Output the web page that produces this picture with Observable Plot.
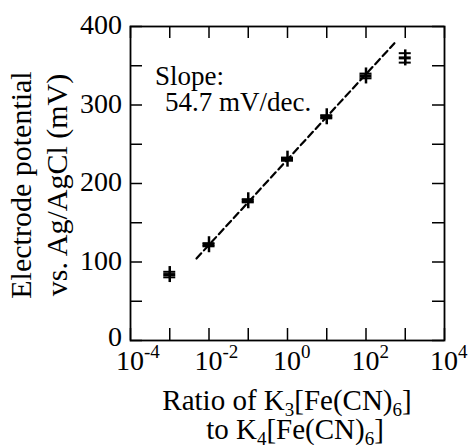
<!DOCTYPE html>
<html><head><meta charset="utf-8">
<script src="https://cdn.jsdelivr.net/npm/d3@7"></script>
<script src="https://cdn.jsdelivr.net/npm/@observablehq/plot@0.6"></script>
<style>
body{margin:0;background:#fff}
svg{font-family:"Liberation Serif","Times New Roman",serif;background:#fff}
</style>
</head><body><div id="chart"></div>
<script>
// Data
const ratio = [1e-3, 1e-2, 1e-1, 1, 10, 100, 1000];
const potential = [84, 122, 178, 231, 285, 337, 360];
const errorMV = [3.5, 2, 2, 2, 2, 3, 6];
// dashed fit line (slope 54.7 mV/dec.)
const fitRatio = [0.0048, 530];
const fitPotential = [104.5, 378.7];
// axes
const xTickValues = [1e-4, 1e-3, 1e-2, 1e-1, 1, 10, 100, 1000, 1e4];
const xLabelValues = [1e-4, 1e-2, 1, 100, 1e4];
const xLabelExponents = ["-4", "-2", "0", "2", "4"];
const yTickValues = [0, 50, 100, 150, 200, 250, 300, 350, 400];
const yLabelValues = [0, 100, 200, 300, 400];

const points = ratio.map((r, i) => ({r, v: potential[i], e: errorMV[i]}));
const fit = fitRatio.map((r, i) => ({r, v: fitPotential[i]}));

const tickLen = 12;
const plot = Plot.plot({
  width: 470, height: 445,
  marginLeft: 130, marginRight: 26, marginTop: 26, marginBottom: 105,
  x: {type: "log", domain: [1e-4, 1e4], axis: null},
  y: {domain: [0, 400], axis: null},
  marks: [
    // inward ticks
    Plot.ruleX(xTickValues, {x: d => d, y1: 0, y2: 0, insetTop: -tickLen, stroke: "#000", strokeWidth: 1.5}),
    Plot.ruleX(xTickValues, {x: d => d, y1: 400, y2: 400, insetBottom: -tickLen, stroke: "#000", strokeWidth: 1.5}),
    Plot.ruleY(yTickValues, {y: d => d, x1: 1e-4, x2: 1e-4, insetRight: -tickLen, stroke: "#000", strokeWidth: 1.5}),
    Plot.ruleY(yTickValues, {y: d => d, x1: 1e4, x2: 1e4, insetLeft: -tickLen, stroke: "#000", strokeWidth: 1.5}),
    Plot.frame({stroke: "#000", strokeWidth: 1.8}),
    // fit line
    Plot.line(fit, {x: "r", y: "v", stroke: "#000", strokeWidth: 2.2, strokeDasharray: "7,4"}),
    // error bars
    Plot.ruleX(points, {x: "r", y1: d => d.v - d.e, y2: d => d.v + d.e, stroke: "#000", strokeWidth: 2}),
    Plot.ruleY(points, {y: d => d.v + d.e, x1: "r", x2: "r", insetLeft: -6, insetRight: -6, stroke: "#000", strokeWidth: 2}),
    Plot.ruleY(points, {y: d => d.v - d.e, x1: "r", x2: "r", insetLeft: -6, insetRight: -6, stroke: "#000", strokeWidth: 2}),
    // plus markers
    Plot.ruleX(points, {x: "r", y1: "v", y2: "v", insetTop: -8, insetBottom: -8, stroke: "#000", strokeWidth: 2.5}),
    Plot.ruleY(points, {y: "v", x1: "r", x2: "r", insetLeft: -6, insetRight: -6, stroke: "#000", strokeWidth: 3})
  ]
});

const svg = d3.select(plot);
const X = v => plot.scale("x").apply(v);
const Y = v => plot.scale("y").apply(v);
const g = svg.append("g").attr("fill", "#000").attr("text-anchor", "start");

// y tick labels
yLabelValues.forEach(v => {
  g.append("text").attr("x", X(1e-4) - 8).attr("y", Y(v) + (v === 0 ? 6 : 8))
    .attr("text-anchor", "end").attr("font-size", 28).text(String(v));
});
// x tick labels with superscripts
xLabelValues.forEach((v, i) => {
  g.append("text").attr("x", X(v)).attr("y", Y(0) + 30)
    .attr("text-anchor", "middle").attr("font-size", 28).text("10");
  g.append("text").attr("x", X(v) + 14).attr("y", Y(0) + 18)
    .attr("text-anchor", "start").attr("font-size", 19).text(xLabelExponents[i]);
});

// y axis title
const cy = (Y(0) + Y(400)) / 2 + 2;
const ytitle = ["Electrode potential", "vs. Ag/AgCl (mV)"];
ytitle.forEach((t, i) => {
  g.append("text").attr("transform", `translate(${31 + i * 36},${cy}) rotate(-90)`)
    .attr("text-anchor", "middle").attr("font-size", 30).text(t);
});

// x axis title with subscripts
function subText(x, y, parts) {
  const t = g.append("text").attr("x", x).attr("y", y).attr("text-anchor", "middle").attr("font-size", 29);
  let lowered = false;
  parts.forEach(([s, sub]) => {
    const sp = t.append("tspan").text(s);
    if (sub) { sp.attr("dy", 6).attr("font-size", 19); lowered = true; }
    else if (lowered) { sp.attr("dy", -6); lowered = false; }
  });
}
const xc = (X(1e-4) + X(1e4)) / 2;
subText(xc, 410, [["Ratio of K"], ["3", 1], ["[Fe(CN)"], ["6", 1], ["]"]]);
subText(xc + 8, 439, [["to K"], ["4", 1], ["[Fe(CN)"], ["6", 1], ["]"]]);

// annotation
g.append("text").attr("x", 155).attr("y", 85).attr("font-size", 27).text("Slope:");
g.append("text").attr("x", 165).attr("y", 111).attr("font-size", 27).text("54.7 mV/dec.");

document.getElementById("chart").appendChild(plot);
</script>
</body></html>
